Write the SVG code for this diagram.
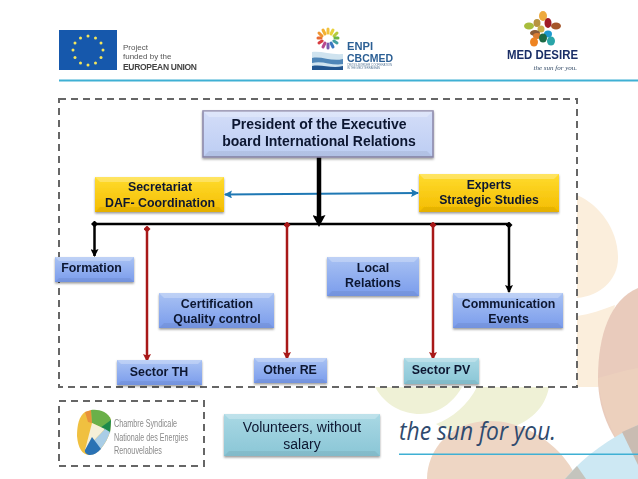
<svg xmlns="http://www.w3.org/2000/svg" width="638" height="479" viewBox="0 0 638 479">
<style>
text{font-family:"Liberation Sans",Arial,sans-serif;fill:#0c1730;text-anchor:middle}
.b{font-weight:bold;font-size:12.4px}
.box{filter:url(#sh)}
.hi{fill:#fff;opacity:.25}
.lo{fill:#000;opacity:.06}
.dash{fill:none;stroke:#666;stroke-width:2;stroke-dasharray:7 5}
.k{fill:none;stroke:#000;stroke-width:2.5}
.r{fill:none;stroke:#a81818;stroke-width:2.5}
.logo{text-anchor:start}
</style>
<defs>
<filter id="sh" x="-10%" y="-15%" width="120%" height="135%"><feDropShadow dx="0" dy="1.5" stdDeviation="1.2" flood-color="#000" flood-opacity=".4"/></filter>
<filter id="bl"><feGaussianBlur stdDeviation=".4"/></filter>
<linearGradient id="gB" x1="0" y1="0" x2="0" y2="1"><stop offset="0" stop-color="#a9c2f3"/><stop offset="1" stop-color="#7a9cec"/></linearGradient>
<linearGradient id="gP" x1="0" y1="0" x2="0" y2="1"><stop offset="0" stop-color="#d3ddf8"/><stop offset="1" stop-color="#bccdf3"/></linearGradient>
<linearGradient id="gY" x1="0" y1="0" x2="0" y2="1"><stop offset="0" stop-color="#ffdc2e"/><stop offset="1" stop-color="#f4bc00"/></linearGradient>
<linearGradient id="gT" x1="0" y1="0" x2="0" y2="1"><stop offset="0" stop-color="#a9d8e4"/><stop offset="1" stop-color="#8ac6d6"/></linearGradient>
<marker id="aK2" markerUnits="userSpaceOnUse" viewBox="0 0 8 8" refX="7" refY="4" markerWidth="8" markerHeight="8" orient="auto"><path d="M0 0L8 4L0 8L1.5 4Z" fill="#000"/></marker>
<marker id="aR" markerUnits="userSpaceOnUse" viewBox="0 0 8 8" refX="7" refY="4" markerWidth="8" markerHeight="8" orient="auto"><path d="M0 0L8 4L0 8L1.5 4Z" fill="#a81818"/></marker>
<marker id="aT" markerUnits="userSpaceOnUse" viewBox="0 0 12 13" refX="2" refY="6.5" markerWidth="12" markerHeight="13" orient="auto"><path d="M0 0L12 6.5L0 13L2 6.5Z" fill="#000"/></marker>
<marker id="aU" markerUnits="userSpaceOnUse" viewBox="0 0 8 8" refX="7" refY="4" markerWidth="8" markerHeight="8" orient="auto-start-reverse"><path d="M0 0L8 4L0 8L1.5 4Z" fill="#1f78b4"/></marker>
<marker id="dK" markerUnits="userSpaceOnUse" viewBox="0 0 7 7" refX="3.5" refY="3.5" markerWidth="7" markerHeight="7"><path d="M3.5 0L7 3.5L3.5 7L0 3.5Z" fill="#000"/></marker>
<marker id="dR" markerUnits="userSpaceOnUse" viewBox="0 0 7 7" refX="3.5" refY="3.5" markerWidth="7" markerHeight="7"><path d="M3.5 0L7 3.5L3.5 7L0 3.5Z" fill="#a81818"/></marker>
</defs>
<rect width="638" height="479" fill="#fff"/>

<g id="watermark">
<path d="M577 195C600 205 618 230 618 258C618 280 600 296 577 298Z" fill="#fbeedc"/>
<path d="M577 316C590 314 602 310 615 305C610 330 607 360 609 387H577Z" fill="#fbeedc"/>
<path d="M638 288C610 300 598 335 598 378C598 415 615 445 638 465Z" fill="#e9cbbc"/>
<path d="M598 378C610 375 625 370 638 368V465C615 445 601 412 598 378Z" fill="#ecd0bd"/>
<path d="M375 387C385 405 402 414 420 414C438 414 453 403 462 387Z" fill="#eff1d6"/>
<path d="M477 387C468 405 452 418 436 424C442 428 452 433 470 434C510 434 543 420 549 387Z" fill="#eff1d6"/>
<path d="M427 479C427 450 450 421 490 421C530 421 565 450 577 479Z" fill="#eed6c4"/>
<path d="M565 479C585 455 610 438 638 425V479Z" fill="#cde8f3"/>
<path d="M565 479L577 466L586 479Z" fill="#c4c4bd"/>
<path d="M622 432L638 425V465Z" fill="#c9bcb2"/>
</g>

<g id="logo-eu" filter="url(#bl)">
<rect x="59" y="30" width="58" height="40" fill="#1659ac"/>
<g fill="#f4e65c"><circle cx="88" cy="36" r="1.5"/><circle cx="95.500" cy="38" r="1.500"/><circle cx="101" cy="43" r="1.500"/><circle cx="103" cy="50" r="1.500"/><circle cx="101" cy="57.500" r="1.500"/><circle cx="95.500" cy="63" r="1.500"/><circle cx="88" cy="65" r="1.500"/><circle cx="80.500" cy="63" r="1.500"/><circle cx="75" cy="57.500" r="1.500"/><circle cx="73" cy="50" r="1.500"/><circle cx="75" cy="43" r="1.500"/><circle cx="80.500" cy="38" r="1.500"/></g>
<text class="logo" x="123" y="50" font-size="8" style="fill:#555">Project</text>
<text class="logo" x="123" y="59" font-size="8" style="fill:#555">funded by the</text>
<text class="logo" x="123" y="70" font-size="8.500" font-weight="bold" textLength="74" lengthAdjust="spacing" style="fill:#444">EUROPEAN UNION</text>
</g>

<g id="logo-enpi" filter="url(#bl)">
<g fill="none" stroke-width="3" stroke-linecap="round">
<path d="M328 29V33" stroke="#f2c23c"/><path d="M333 30L331 34" stroke="#e8d23a"/><path d="M337 33L334 36" stroke="#b5cc3c"/><path d="M338 38H335" stroke="#6cb644"/><path d="M337 43L334 41" stroke="#43a0a0"/><path d="M333 47L331 43" stroke="#3b78c0"/><path d="M328 48V44" stroke="#7a5cb0"/><path d="M323 47L325 43" stroke="#b84a90"/><path d="M319 43L322 41" stroke="#d83c40"/><path d="M318 38H321" stroke="#e86a30"/><path d="M319 33L322 36" stroke="#ef9430"/><path d="M323 30L325 34" stroke="#f2b030"/>
</g>
<path d="M312 52C322 51 332 55 343 54V70H312Z" fill="#cfe3ef"/>
<path d="M312 58C322 56 332 62 343 59V64C332 66 322 60 312 63Z" fill="#4f86b8"/>
<path d="M312 66C322 64 332 69 343 66V70H312Z" fill="#23558f"/>
<text class="logo" x="347" y="50" font-size="10" font-weight="bold" textLength="26" lengthAdjust="spacingAndGlyphs" style="fill:#2c5f94">ENPI</text>
<text class="logo" x="347" y="61.500" font-size="10" font-weight="bold" textLength="46" lengthAdjust="spacingAndGlyphs" style="fill:#2c5f94">CBCMED</text>
<text class="logo" x="347" y="65.500" font-size="3" textLength="45" lengthAdjust="spacingAndGlyphs" style="fill:#5b7a99">CROSS-BORDER COOPERATION</text>
<text class="logo" x="347" y="69" font-size="3" textLength="33" lengthAdjust="spacingAndGlyphs" style="fill:#5b7a99">IN THE MEDITERRANEAN</text>
</g>

<g id="logo-meddesire" filter="url(#bl)">
<ellipse cx="543" cy="16" rx="4" ry="5" fill="#eeaa3c"/>
<ellipse cx="529" cy="26" rx="5" ry="3.500" fill="#a8bd3c"/>
<ellipse cx="556" cy="26" rx="5" ry="3.500" fill="#a5572c"/>
<ellipse cx="537" cy="23" rx="3.500" ry="4" fill="#b89440"/>
<ellipse cx="548" cy="23" rx="3.500" ry="5" fill="#a01c28"/>
<ellipse cx="541" cy="29" rx="3.500" ry="3.500" fill="#c9b04a"/>
<ellipse cx="535" cy="33" rx="5" ry="3" fill="#8a5a34"/>
<ellipse cx="548" cy="34" rx="4" ry="3.500" fill="#1c9ad0"/>
<ellipse cx="537" cy="36" rx="4" ry="3" fill="#d87c30"/>
<ellipse cx="543" cy="38" rx="4" ry="4.500" fill="#1c6a44"/>
<ellipse cx="534" cy="42" rx="4" ry="4.500" fill="#ee8424"/>
<ellipse cx="551" cy="41" rx="4" ry="4.500" fill="#29a5a8"/>
<text class="logo" x="507" y="59" font-size="12" font-weight="bold" textLength="71" lengthAdjust="spacingAndGlyphs" style="fill:#1a2f66">MED DESIRE</text>
<text x="577" y="70" font-size="7" font-style="italic" style="text-anchor:end;fill:#334a66;font-family:'Liberation Serif',serif">the sun for you.</text>
</g>

<rect id="header-rule" x="59" y="79.500" width="579" height="2" fill="#3fb0d4"/>

<rect id="main-frame" class="dash" x="59" y="99" width="518" height="288" style="fill:#fff"/>
<rect id="logo-frame" class="dash" x="59" y="401" width="145" height="65"/>

<g id="connectors">
<path d="M225 194.500L418 193" fill="none" stroke="#1f78b4" stroke-width="2.200" marker-start="url(#aU)" marker-end="url(#aU)"/>
<path d="M319 157V217" fill="none" stroke="#000" stroke-width="4.500" marker-end="url(#aT)"/>
<path class="k" d="M94 224H509"/>
<path class="k" d="M94.500 224V256" marker-start="url(#dK)" marker-end="url(#aK2)"/>
<path class="k" d="M509 225V292" marker-start="url(#dK)" marker-end="url(#aK2)"/>
<path class="r" d="M147 229V361" marker-start="url(#dR)" marker-end="url(#aR)"/>
<path class="r" d="M287 225V359" marker-start="url(#dR)" marker-end="url(#aR)"/>
<path class="r" d="M433 225V359" marker-start="url(#dR)" marker-end="url(#aR)"/>
</g>

<g id="president" class="box"><rect x="203" y="111" width="230" height="46" fill="url(#gP)" stroke="#8a86a8" stroke-width="1.500"/>
<path class="hi" d="M203 111H433L427 117H209Z"/><path class="lo" d="M203 157H433L427 151H209Z"/>
<text x="319" y="129" font-size="14" font-weight="bold">President of the Executive</text>
<text x="319" y="146" font-size="14" font-weight="bold">board International Relations</text></g>

<g id="secretariat" class="box"><rect x="95" y="177" width="129" height="35" fill="url(#gY)"/>
<path class="hi" d="M95 177H224L219 182H100Z"/><path class="lo" d="M95 212H224L219 207H100Z"/>
<text class="b" x="160" y="191">Secretariat</text><text class="b" x="160" y="207">DAF- Coordination</text></g>

<g id="experts" class="box"><rect x="419" y="174" width="140" height="38" fill="url(#gY)"/>
<path class="hi" d="M419 174H559L554 179H424Z"/><path class="lo" d="M419 212H559L554 207H424Z"/>
<text class="b" x="489" y="189" style="font-size:12.200px">Experts</text><text class="b" x="489" y="204" style="font-size:12.200px">Strategic Studies</text></g>

<g id="formation" class="box"><rect x="55" y="257" width="79" height="25" fill="url(#gB)"/>
<path class="hi" d="M55 257H134L130 261H59Z"/><path class="lo" d="M55 282H134L130 278H59Z"/>
<text class="b" x="91.500" y="272">Formation</text></g>

<g id="local-relations" class="box"><rect x="327" y="257" width="92" height="39" fill="url(#gB)"/>
<path class="hi" d="M327 257H419L414 262H332Z"/><path class="lo" d="M327 296H419L414 291H332Z"/>
<text class="b" x="373" y="272">Local</text><text class="b" x="373" y="287">Relations</text></g>

<g id="certification" class="box"><rect x="159" y="293" width="115" height="35" fill="url(#gB)"/>
<path class="hi" d="M159 293H274L269 298H164Z"/><path class="lo" d="M159 328H274L269 323H164Z"/>
<text class="b" x="217" y="308">Certification</text><text class="b" x="217" y="323">Quality control</text></g>

<g id="communication" class="box"><rect x="453" y="293" width="110" height="35" fill="url(#gB)"/>
<path class="hi" d="M453 293H563L558 298H458Z"/><path class="lo" d="M453 328H563L558 323H458Z"/>
<text class="b" x="508.500" y="308">Communication</text><text class="b" x="508.500" y="323">Events</text></g>

<g id="sector-th" class="box"><rect x="117" y="360" width="85" height="25" fill="url(#gB)"/>
<path class="hi" d="M117 360H202L198 364H121Z"/><path class="lo" d="M117 385H202L198 381H121Z"/>
<text class="b" x="159" y="376">Sector TH</text></g>

<g id="other-re" class="box"><rect x="254" y="358" width="73" height="25" fill="url(#gB)"/>
<path class="hi" d="M254 358H327L323 362H258Z"/><path class="lo" d="M254 383H327L323 379H258Z"/>
<text class="b" x="290" y="374">Other RE</text></g>

<g id="sector-pv" class="box"><rect x="404" y="358" width="75" height="26" fill="url(#gT)"/>
<path class="hi" d="M404 358H479L475 362H408Z"/><path class="lo" d="M404 384H479L475 380H408Z"/>
<text class="b" x="441" y="374">Sector PV</text></g>

<g id="volunteers" class="box"><rect x="224" y="414" width="156" height="42" fill="url(#gT)"/>
<path class="hi" d="M224 414H380L375 419H229Z"/><path class="lo" d="M224 456H380L375 451H229Z"/>
<text x="302" y="432" font-size="14">Volunteers, without</text><text x="302" y="449" font-size="14">salary</text></g>

<g id="logo-chambre" filter="url(#bl)">
<path d="M85 412C95 409 108 411 111 420L110 432C106 444 98 455 90 455C82 455 78 448 77 436C77 425 79 416 85 412Z" fill="#f0c040"/>
<path d="M85 412L91 410L92 423L88 422Z" fill="#e8913a"/>
<path d="M91 410C98 409 108 411 111 420L110 432L92 423Z" fill="#6bb04a"/>
<path d="M100 428L111 420L110 433Z" fill="#1f8a4c"/>
<path d="M92 423L105 429L85 450Z" fill="#f6f0d8"/>
<path d="M105 429L110 432C106 444 98 455 90 455L85 450Z" fill="#a9cde6"/>
<path d="M85 450C84 453 88 455 90 455C94 455 98 452 101 449L92 437Z" fill="#2c72b4"/>
<text class="logo" x="114" y="427" font-size="11" textLength="63" lengthAdjust="spacingAndGlyphs" style="fill:#8a8a8a">Chambre Syndicale</text>
<text class="logo" x="114" y="441" font-size="11" textLength="74" lengthAdjust="spacingAndGlyphs" style="fill:#8a8a8a">Nationale des Energies</text>
<text class="logo" x="114" y="454" font-size="11" textLength="48" lengthAdjust="spacingAndGlyphs" style="fill:#8a8a8a">Renouvelables</text>
</g>

<g id="tagline">
<text x="399" y="440" font-size="26" font-style="italic" textLength="157" lengthAdjust="spacingAndGlyphs" style="text-anchor:start;fill:#2f4a6e;font-family:'Open Sans',sans-serif">the sun for you.</text>
<rect x="399" y="453.500" width="239" height="1.500" fill="#3fb0d4"/>
</g>
</svg>
